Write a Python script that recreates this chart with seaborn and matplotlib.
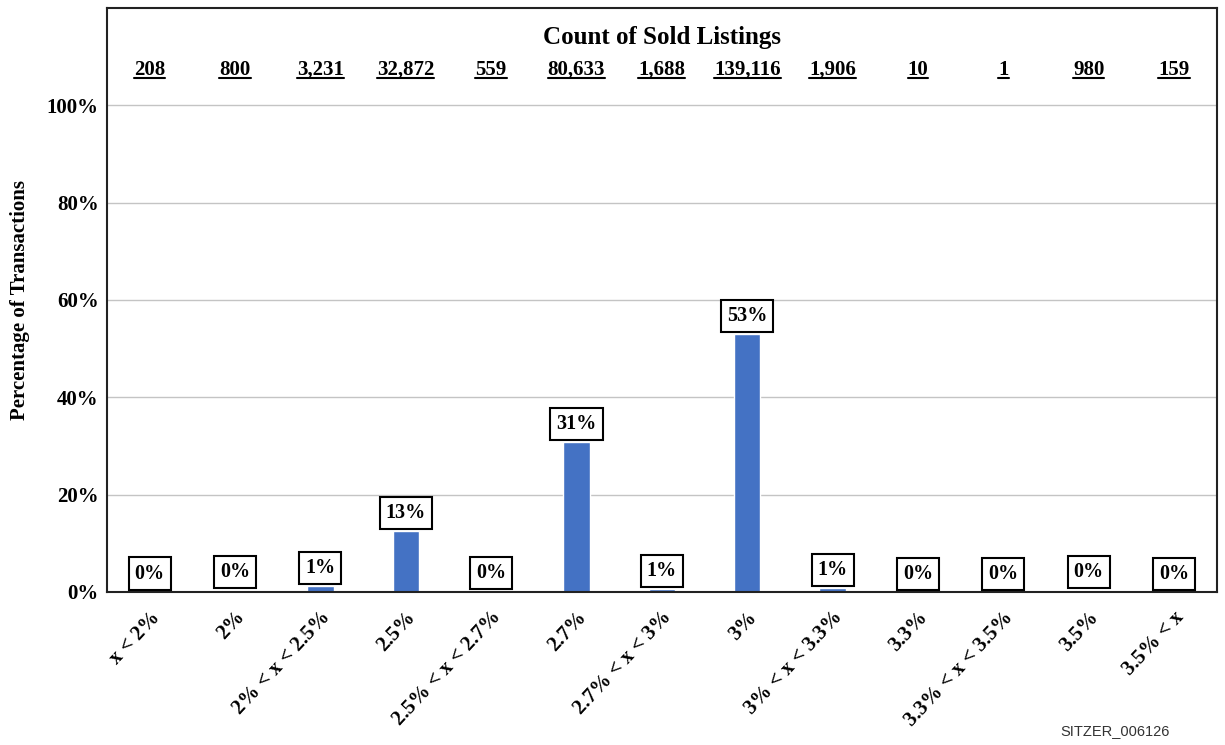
import matplotlib
matplotlib.use("Agg")
import matplotlib.pyplot as plt
import matplotlib.transforms as mtransforms
from matplotlib.lines import Line2D
import seaborn as sns
import pandas as pd

categories = ["x < 2%", "2%", "2% < x < 2.5%", "2.5%", "2.5% < x < 2.7%", "2.7%",
              "2.7% < x < 3%", "3%", "3% < x < 3.3%", "3.3%", "3.3% < x < 3.5%",
              "3.5%", "3.5% < x"]
counts = [208, 800, 3231, 32872, 559, 80633, 1688, 139116, 1906, 10, 1, 980, 159]
pct_values = [0.08, 0.31, 1.23, 12.54, 0.21, 30.76, 0.64, 53.06, 0.73, 0.004, 0.0004, 0.37, 0.06]
pct_labels = ["0%", "0%", "1%", "13%", "0%", "31%", "1%", "53%", "1%", "0%", "0%", "0%", "0%"]
ytick_values = [0, 20, 40, 60, 80, 100]

sns.set_theme(style="white")
plt.rcParams["font.family"] = ["Liberation Serif", "DejaVu Serif"]
plt.rcParams["font.weight"] = "bold"
for k in ["text.color", "axes.labelcolor", "xtick.color", "ytick.color"]:
    plt.rcParams[k] = "black"

df = pd.DataFrame({"cat": categories, "pct": pct_values})

fig = plt.figure(figsize=(12.25, 7.45), dpi=100)
ax = fig.add_axes([0.0873, 0.2054, 0.906, 0.7839])

for v in ytick_values[1:]:
    ax.axhline(v, color="#c4c4c4", linewidth=1.0, zorder=0)

sns.barplot(data=df, x="cat", y="pct", color="#4472C4", width=0.31, ax=ax,
            saturation=1, zorder=2)

ax.set_ylim(0, 120)
ax.set_xlim(-0.5, len(categories) - 0.5)
ax.set_yticks(ytick_values)
ax.set_yticklabels([f"{v}%" for v in ytick_values], fontsize=15, fontweight="bold")
ax.tick_params(axis="both", length=0)
ax.tick_params(axis="y", pad=6)
ax.tick_params(axis="x", pad=16)
ax.set_xlabel("")
ax.set_ylabel("Percentage of Transactions", fontsize=15, fontweight="bold", labelpad=12)

offset = mtransforms.ScaledTranslation(7 / 100, 0, fig.dpi_scale_trans)
ax.set_xticks(range(len(categories)))
ax.set_xticklabels(categories, rotation=47, ha="right", va="center",
                   rotation_mode="anchor", fontsize=15, fontweight="bold")
for lab in ax.get_xticklabels():
    lab.set_transform(lab.get_transform() + offset)

for s in ax.spines.values():
    s.set_visible(True)
    s.set_color("#222222")
    s.set_linewidth(1.5)

for i, (v, lab) in enumerate(zip(pct_values, pct_labels)):
    ax.annotate(lab, xy=(i, v), xytext=(0, 13), textcoords="offset points",
                ha="center", va="center", fontsize=14.5, fontweight="bold",
                bbox=dict(boxstyle="square,pad=0.3", fc="white", ec="black", lw=1.5),
                zorder=5)

trans = mtransforms.blended_transform_factory(ax.transData, ax.transAxes)
ax.text(0.5, 0.95, "Count of Sold Listings", transform=ax.transAxes, ha="center",
        va="center", fontsize=18, fontweight="bold")
count_texts = []
for i, c in enumerate(counts):
    t = ax.text(i, 0.894, f"{c:,}", transform=trans, ha="center", va="center",
                fontsize=15, fontweight="bold")
    count_texts.append(t)

fig.text(1170 / 1225, 1 - 731 / 745, "SITZER_006126", ha="right", va="center",
         fontsize=10.5, color="#333333", family="Liberation Sans", fontweight="normal")

fig.canvas.draw()
renderer = fig.canvas.get_renderer()
inv = fig.transFigure.inverted()
for t in count_texts:
    bb = t.get_window_extent(renderer)
    (x0, y0) = inv.transform((bb.x0, bb.y0 + 2))
    (x1, _) = inv.transform((bb.x1, bb.y0 + 2))
    fig.add_artist(Line2D([x0, x1], [y0, y0], transform=fig.transFigure,
                          color="black", linewidth=1.5))

fig.savefig("out.png", dpi=100)
